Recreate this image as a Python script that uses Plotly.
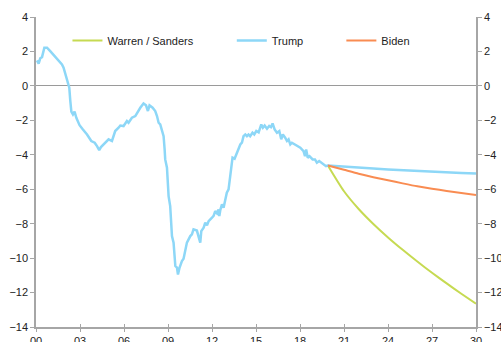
import plotly.graph_objects as go

# Historical budget balance (% of GDP)
hist_years = [2000.07, 2000.18, 2000.29, 2000.41, 2000.57, 2000.75, 2000.97, 2001.32, 2001.77, 2001.88,
              2002.04, 2002.18, 2002.27, 2002.34, 2002.41, 2002.52, 2002.63, 2002.75, 2002.97, 2003.20,
              2003.48, 2003.77, 2004.00, 2004.16, 2004.31, 2004.43, 2004.61, 2004.79, 2004.95, 2005.18,
              2005.40, 2005.63, 2005.75, 2005.97, 2006.20, 2006.31, 2006.54, 2006.77, 2006.95, 2007.11,
              2007.33, 2007.50, 2007.63, 2007.74, 2007.95, 2008.13, 2008.25, 2008.36, 2008.47, 2008.59,
              2008.70, 2008.77, 2008.81, 2008.93, 2009.04, 2009.15, 2009.27, 2009.38, 2009.50, 2009.61,
              2009.68, 2009.79, 2009.95, 2010.06, 2010.18, 2010.29, 2010.52, 2010.63, 2010.74, 2010.97,
              2011.20, 2011.27, 2011.43, 2011.54, 2011.66, 2011.77, 2012.00, 2012.11, 2012.22, 2012.34,
              2012.45, 2012.50, 2012.57, 2012.68, 2012.79, 2012.90, 2013.01, 2013.13, 2013.24, 2013.32,
              2013.40, 2013.54, 2013.65, 2013.77, 2013.93, 2014.04, 2014.15, 2014.27, 2014.38, 2014.49,
              2014.60, 2014.76, 2014.88, 2015.02, 2015.18, 2015.36, 2015.47, 2015.59, 2015.75, 2015.90,
              2016.02, 2016.13, 2016.27, 2016.43, 2016.59, 2016.72, 2016.83, 2016.99, 2017.11, 2017.22,
              2017.34, 2017.45, 2017.63, 2017.79, 2018.02, 2018.24, 2018.34, 2018.42, 2018.53, 2018.65,
              2018.86, 2019.02, 2019.15, 2019.31, 2019.45, 2019.61, 2019.77, 2019.90]
hist_values = [1.48, 1.29, 1.60, 1.67, 2.22, 2.22, 2.02, 1.70, 1.25, 1.06,
               0.57, 0.18, -0.10, -0.88, -1.50, -1.66, -1.50, -1.85, -2.28, -2.53,
               -2.82, -3.20, -3.30, -3.50, -3.73, -3.55, -3.40, -3.24, -3.10, -3.20,
               -2.62, -2.43, -2.30, -2.33, -2.04, -2.14, -1.85, -1.75, -1.46, -1.27,
               -1.02, -1.13, -1.46, -1.13, -1.27, -1.46, -1.75, -2.14, -2.24, -2.53,
               -2.92, -3.69, -4.27, -4.75, -6.40, -6.98, -8.72, -9.10, -10.46, -10.55,
               -10.95, -10.55, -10.17, -10.04, -9.50, -9.10, -8.72, -8.62, -8.33, -8.40,
               -9.10, -8.43, -8.23, -7.94, -8.10, -7.85, -7.65, -7.55, -7.27, -7.40,
               -7.17, -7.56, -7.20, -6.88, -7.07, -6.59, -6.20, -6.01, -5.24, -4.90,
               -4.17, -4.23, -3.98, -3.69, -3.40, -3.30, -2.92, -2.82, -2.92, -2.82,
               -2.92, -2.72, -2.82, -2.62, -2.70, -2.24, -2.43, -2.30, -2.49, -2.33,
               -2.40, -2.18, -2.53, -2.72, -2.62, -3.10, -2.82, -3.01, -3.20, -3.10,
               -3.40, -3.30, -3.40, -3.50, -3.59, -3.79, -4.08, -3.69, -4.17, -4.08,
               -4.27, -4.27, -4.46, -4.36, -4.46, -4.56, -4.66, -4.62]

# Projections
proj_years = [2019.90, 2021, 2022, 2023, 2024, 2025, 2026, 2027, 2028, 2029, 2030]
trump_proj = [-4.62, -4.67, -4.73, -4.79, -4.85, -4.90, -4.95, -4.99, -5.03, -5.06, -5.09]
biden_proj = [-4.62, -4.87, -5.10, -5.30, -5.48, -5.66, -5.83, -5.97, -6.10, -6.22, -6.34]
warren_proj = [-4.62, -6.12, -7.15, -8.02, -8.80, -9.52, -10.20, -10.85, -11.47, -12.07, -12.65]

x_tickvals = [2000, 2003, 2006, 2009, 2012, 2015, 2018, 2021, 2024, 2027, 2030]
x_ticktext = ["00", "03", "06", "09", "12", "15", "18", "21", "24", "27", "30"]
y_tickvals = [4, 2, 0, -2, -4, -6, -8, -10, -12, -14]

GREEN = "#C6DA52"
BLUE = "#8DD7F7"
ORANGE = "#F98C52"
AXIS = "#A6A6A6"
FONT = dict(family="Liberation Sans, Arial, sans-serif", size=11, color="#222222")

fig = go.Figure()
fig.add_trace(go.Scatter(x=proj_years, y=warren_proj, mode="lines", name="Warren / Sanders",
                         line=dict(color=GREEN, width=2, shape="spline", smoothing=0.6),
                         legend="legend"))
fig.add_trace(go.Scatter(x=hist_years + proj_years[1:], y=hist_values + trump_proj[1:], mode="lines",
                         name="Trump", line=dict(color=BLUE, width=2.5), legend="legend2"))
fig.add_trace(go.Scatter(x=proj_years, y=biden_proj, mode="lines", name="Biden",
                         line=dict(color=ORANGE, width=2, shape="spline", smoothing=0.6),
                         legend="legend3", xaxis="x2", yaxis="y2"))

leg_common = dict(orientation="h", yanchor="middle", y=0.924, xanchor="left",
                  bgcolor="rgba(0,0,0,0)", font=FONT, borderwidth=0)

fig.update_layout(
    width=501, height=342,
    margin=dict(l=36, r=25, t=17, b=15, autoexpand=False),
    paper_bgcolor="white", plot_bgcolor="white",
    font=FONT,
    showlegend=True,
    legend=dict(x=0.0715, **leg_common),
    legend2=dict(x=0.445, **leg_common),
    legend3=dict(x=0.694, **leg_common),
    xaxis=dict(range=[2000, 2030], tickvals=x_tickvals, ticktext=x_ticktext, automargin=False,
               showgrid=False, zeroline=False, showline=True, linecolor=AXIS, linewidth=1.5,
               ticks="outside", ticklen=3, tickcolor=AXIS, tickwidth=1, tickfont=FONT),
    xaxis2=dict(range=[2000, 2030], tickvals=x_tickvals, overlaying="x", anchor="y2", automargin=False,
                showgrid=False, zeroline=False, showline=False, showticklabels=False,
                ticks="inside", ticklen=3, tickcolor=AXIS, tickwidth=1),
    yaxis=dict(range=[-14, 4], tickvals=y_tickvals, showgrid=False, automargin=False,
               zeroline=True, zerolinecolor="#9A9A9A", zerolinewidth=1.2,
               showline=True, linecolor=AXIS, linewidth=1.5,
               ticks="outside", ticklen=4, tickcolor=AXIS, tickwidth=1, tickfont=FONT),
    yaxis2=dict(range=[-14, 4], tickvals=y_tickvals, overlaying="y", side="right", anchor="x2",
                automargin=False,
                showgrid=False, zeroline=False, showline=True, linecolor=AXIS, linewidth=1.5,
                ticks="outside", ticklen=4, tickcolor=AXIS, tickwidth=1, tickfont=FONT),
)

fig.write_html("out.html", config={"displayModeBar": False},
               post_script="document.body.style.margin='0';document.body.style.overflow='hidden';")
